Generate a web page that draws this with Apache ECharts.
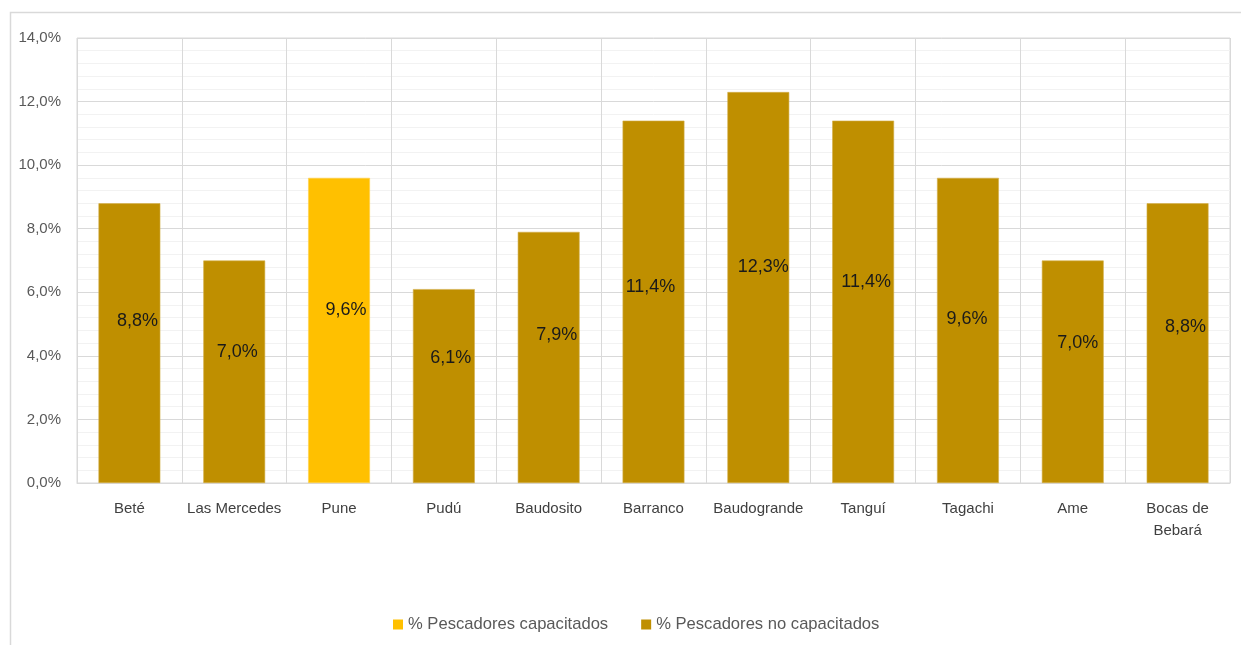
<!DOCTYPE html>
<html>
<head>
<meta charset="utf-8">
<script src="https://cdn.jsdelivr.net/npm/echarts@6/dist/echarts.min.js"></script>
<style>
  html, body { margin: 0; padding: 0; background: #fff; }
  #main { width: 1241px; height: 645px; }
</style>
</head>
<body>
<div id="main"></div>
<script>
var categories = ['Beté', 'Las Mercedes', 'Pune', 'Pudú', 'Baudosito', 'Barranco',
	'Baudogrande', 'Tanguí', 'Tagachi', 'Ame', 'Bocas de\nBebará'];
var capacitados = [null, null, 9.6, null, null, null, null, null, null, null, null];
var noCapacitados = [8.8, 7.0, null, 6.1, 7.9, 11.4, 12.3, 11.4, 9.6, 7.0, 8.8];
var yTicks = [0, 2, 4, 6, 8, 10, 12, 14];

// los rotulos de Excel estan movidos a mano, se copian los desplazamientos
var labelShift = [[8, -22], [3, -20], [7, -20], [7, -28], [8, -22], [-3, -15],
	[5, -20], [3, -20], [-1, -11], [5, -29], [8, -16]];

var FONT = 'Liberation Sans, Arial, sans-serif';

function pct(v) {
	return v.toFixed(1).replace('.', ',') + '%';
}

function toItems(arr) {
	return arr.map(function(v, i) {
		if (v == null) return '-';
		return {
			value: v,
			label: { offset: labelShift[i] }
		};
	});
}

var barLabel = {
	show: true,
	position: 'inside',
	color: '#1a1a1a',
	fontSize: 18,
	fontFamily: FONT,
	formatter: function(p) { return pct(p.value); }
};

var chart = echarts.init(document.getElementById('main'));

var option = {
	animation: false,
	backgroundColor: '#fff',
	graphic: [{
		type: 'rect',
		shape: { x: 10.5, y: 12.5, width: 1250, height: 700 },
		style: { fill: 'none', stroke: '#D9D9D9', lineWidth: 1.5 },
		silent: true
	}],
	grid: {
		left: 77,
		right: 11,
		top: 38,
		bottom: 162,
		show: true,
		borderColor: '#D9D9D9',
		borderWidth: 1
	},
	legend: {
		left: 388,
		top: 611,
		itemWidth: 10,
		itemHeight: 10,
		itemGap: 33,
		icon: 'rect',
		itemStyle: { borderWidth: 0 },
		textStyle: { color: '#595959', fontSize: 16.6, fontFamily: FONT },
		data: ['% Pescadores capacitados', '% Pescadores no capacitados']
	},
	xAxis: {
		type: 'category',
		data: categories,
		axisLine: { show: true, lineStyle: { color: '#D9D9D9' } },
		axisTick: { show: false },
		splitLine: { show: true, interval: 0, lineStyle: { color: '#D9D9D9' } },
		axisLabel: {
			interval: 0,
			color: '#404040',
			fontSize: 15,
			fontFamily: FONT,
			margin: 15,
			lineHeight: 22
		}
	},
	yAxis: {
		type: 'value',
		min: yTicks[0],
		max: yTicks[yTicks.length - 1],
		interval: 2,
		axisLine: { show: false },
		axisTick: { show: false },
		splitLine: { lineStyle: { color: '#D9D9D9' } },
		minorTick: { show: false, splitNumber: 5 },
		minorSplitLine: { show: true, lineStyle: { color: '#F2F2F2' } },
		axisLabel: {
			color: '#595959',
			fontSize: 15,
			fontFamily: FONT,
			margin: 16,
			formatter: function(v) { return pct(v); }
		}
	},
	series: [{
		name: '% Pescadores capacitados',
		type: 'bar',
		stack: 'total',
		barWidth: '59%',
		data: toItems(capacitados),
		itemStyle: { color: '#FFC000', borderColor: '#FFD24D', borderWidth: 0.6 },
		label: barLabel
	}, {
		name: '% Pescadores no capacitados',
		type: 'bar',
		stack: 'total',
		barWidth: '59%',
		data: toItems(noCapacitados),
		itemStyle: { color: '#BF8F00', borderColor: '#D4AE4A', borderWidth: 0.6 },
		label: barLabel
	}]
};

chart.setOption(option);
</script>
</body>
</html>
